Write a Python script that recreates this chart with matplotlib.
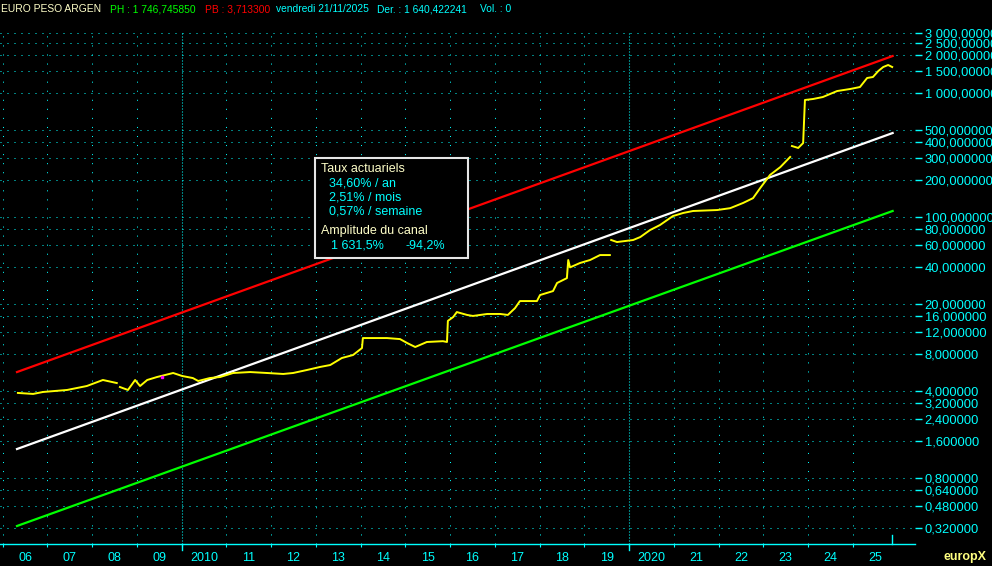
import matplotlib
matplotlib.use('Agg')
import matplotlib.pyplot as plt
import matplotlib.patches as patches
import matplotlib.ticker as ticker
import numpy as np

nan = np.nan

# EUR/ARS price (decimal year, value)
price_dates = [2006.34, 2006.68, 2006.90, 2007.44, 2007.88, 2008.24, 2008.55, 2008.58,
               2008.62, 2008.80, 2008.96, 2009.07, 2009.23, 2009.45, 2009.81, 2010.01,
               2010.25, 2010.37, 2010.63, 2010.86, 2011.15, 2011.53, 2011.91, 2012.27,
               2012.49, 2012.80, 2013.09, 2013.32, 2013.58, 2013.83, 2014.03, 2014.05,
               2014.59, 2014.88, 2015.04, 2015.22, 2015.48, 2015.84, 2015.93, 2015.95,
               2016.07, 2016.15, 2016.38, 2016.51, 2016.83, 2017.12, 2017.29, 2017.45,
               2017.56, 2017.94, 2018.01, 2018.30, 2018.39, 2018.61, 2018.64, 2018.68,
               2018.90, 2019.13, 2019.35, 2019.57, 2019.58, 2019.60, 2019.73, 2020.09,
               2020.25, 2020.47, 2020.69, 2020.98, 2021.21, 2021.43, 2021.97, 2022.26,
               2022.55, 2022.77, 2022.93, 2023.15, 2023.38, 2023.60, 2023.62, 2023.64,
               2023.78, 2023.89, 2023.93, 2024.11, 2024.33, 2024.65, 2024.94, 2025.16,
               2025.32, 2025.45, 2025.57, 2025.68, 2025.79, 2025.88]
price_values = [3.88, 3.81, 3.95, 4.10, 4.41, 4.93, 4.66, nan,
                4.33, 4.10, 4.93, 4.41, 4.93, 5.21, 5.61, 5.31,
                5.11, 4.84, 5.11, 5.21, 5.61, 5.71, 5.61, 5.51,
                5.61, 5.93, 6.27, 6.50, 7.40, 7.82, 8.90, 10.7,
                10.7, 10.5, 9.76, 9.07, 9.95, 10.1, 9.95, 14.7,
                15.8, 17.3, 16.4, 16.1, 16.7, 16.7, 16.4, 18.6,
                21.2, 21.2, 23.7, 25.5, 29.6, 32.4, 45.3, 39.5,
                42.8, 45.3, 49.6, 49.6, nan, 65.5, 63.1, 65.5,
                69.2, 78.8, 86.4, 102, 108, 112, 114, 118,
                130, 142, 171, 218, 252, 304, nan, 372,
                359, 393, 871, 887, 920, 1028, 1067, 1107,
                1308, 1332, 1488, 1602, 1663, 1602]

# regression channel
channel_dates = [2006.32, 2025.89]
channel_high = [5.71, 1963]
channel_mid = [1.377, 473]
channel_low = [0.332, 112]

y_ticks = [3000, 2500, 2000, 1500, 1000, 500, 400, 300, 200, 100, 80, 60, 40,
           20, 16, 12, 8, 4, 3.2, 2.4, 1.6, 0.8, 0.64, 0.48, 0.32]
years = list(range(2006, 2026))
year_labels = ['06', '07', '08', '09', '2010', '11', '12', '13', '14', '15',
               '16', '17', '18', '19', '2020', '21', '22', '23', '24', '25']

CYAN = '#00FFFF'
PALE = '#FFFFC8'
W, H = 992, 566

plt.rcParams['font.family'] = ['Liberation Sans', 'DejaVu Sans']
plt.rcParams['lines.scale_dashes'] = False

fig = plt.figure(figsize=(W / 100, H / 100), dpi=100, facecolor='black')
ax = fig.add_axes([0, 1 - 544 / H, 915 / W, 522 / H], facecolor='black')
ax.set_yscale('log')
ax.set_xlim(2005.94, 2026.39)
ax.set_ylim(0.238, 3681)

# dotted grid
ax.hlines(y_ticks, 2005.94, 2026.33, colors=CYAN, lw=0.72,
          linestyles=[(0, (0.72, 4.32))])
for yr in years:
    if yr in (2010, 2020):
        ax.vlines(yr, 0.238, 3000, colors=CYAN, lw=0.8, linestyles=[(0, (0.72, 1.44))])
    else:
        ax.vlines(yr, 0.238, 3000, colors=CYAN, lw=0.72, linestyles=[(0, (0.72, 5.8))])

ax.plot(channel_dates, channel_high, color='#FF0000', lw=1.6)
ax.plot(channel_dates, channel_mid, color='#FFFFFF', lw=1.6)
ax.plot(channel_dates, channel_low, color='#00FF00', lw=1.6)
ax.plot(price_dates, price_values, color='#FFFF00', lw=1.4)
ax.plot([2009.56], [5.2], 's', color='#FF00FF', ms=1.5)

# axes styling
for s in ('top', 'left', 'right'):
    ax.spines[s].set_visible(False)
ax.spines['bottom'].set_color(CYAN)
ax.spines['bottom'].set_linewidth(1.0)

ax.yaxis.tick_right()
ax.yaxis.set_major_locator(ticker.FixedLocator(y_ticks))
ax.yaxis.set_minor_locator(ticker.NullLocator())
ax.yaxis.set_major_formatter(ticker.FuncFormatter(
    lambda v, p: f"{v:,.6f}".replace(',', ' ').replace('.', ',')))
ax.tick_params(axis='y', which='major', colors=CYAN, length=5, width=1.0,
               pad=2, labelsize=9.3, labelcolor=CYAN)

ax.xaxis.set_major_locator(ticker.FixedLocator(years))
ax.xaxis.set_major_formatter(ticker.NullFormatter())
ax.xaxis.set_minor_locator(ticker.FixedLocator([y + 0.5 for y in years]))
ax.xaxis.set_minor_formatter(ticker.FixedFormatter(year_labels))
ax.tick_params(axis='x', which='major', colors=CYAN, length=2.2, width=0.8)
ax.tick_params(axis='x', which='minor', length=0, pad=6, labelsize=9, labelcolor=CYAN)

# longer ticks for decades and last-date marker
xt = ax.get_xaxis_transform()
for yr in (2010, 2020):
    ax.plot([yr, yr], [0, -6 / 522], color=CYAN, lw=1.0, transform=xt, clip_on=False)
ax.plot([2025.88, 2025.88], [0, 9 / 522], color=CYAN, lw=1.0, transform=xt, clip_on=False)


def fx(x):
    return x / W


def fy(y):
    return 1 - y / H


# header
header = [(1, 'EURO PESO ARGEN', PALE), (110, 'PH : 1 746,745850', '#00FF00'),
          (205, 'PB : 3,713300', '#FF0000'), (276, 'vendredi 21/11/2025', CYAN),
          (377, 'Der. : 1 640,422241', CYAN), (480, 'Vol. : 0', CYAN)]
for x, txt, col in header:
    fig.text(fx(x), fy(9), txt, color=col, fontsize=7.4, va='center')

# info box
box = patches.Rectangle((fx(315), fy(258)), 153 / W, 100 / H, transform=fig.transFigure,
                        facecolor='black', edgecolor='#E6E6E6', lw=1.5)
fig.patches.append(box)
fig.text(fx(321), fy(169), 'Taux actuariels', color=PALE, fontsize=9, va='center')
fig.text(fx(329), fy(184), '34,60% / an', color=CYAN, fontsize=9, va='center')
fig.text(fx(329), fy(198), '2,51% / mois', color=CYAN, fontsize=9, va='center')
fig.text(fx(329), fy(211), '0,57% / semaine', color=CYAN, fontsize=9, va='center')
fig.text(fx(321), fy(231), 'Amplitude du canal', color=PALE, fontsize=9, va='center')
fig.text(fx(331), fy(245), '1 631,5%', color=CYAN, fontsize=9, va='center')
fig.text(fx(406), fy(245), '-94,2%', color=CYAN, fontsize=9, va='center')

fig.text(fx(944), fy(557), 'europX', color='#FFFF80', fontsize=9, weight='bold', va='center')

fig.savefig('out.png', dpi=100, facecolor='black')
